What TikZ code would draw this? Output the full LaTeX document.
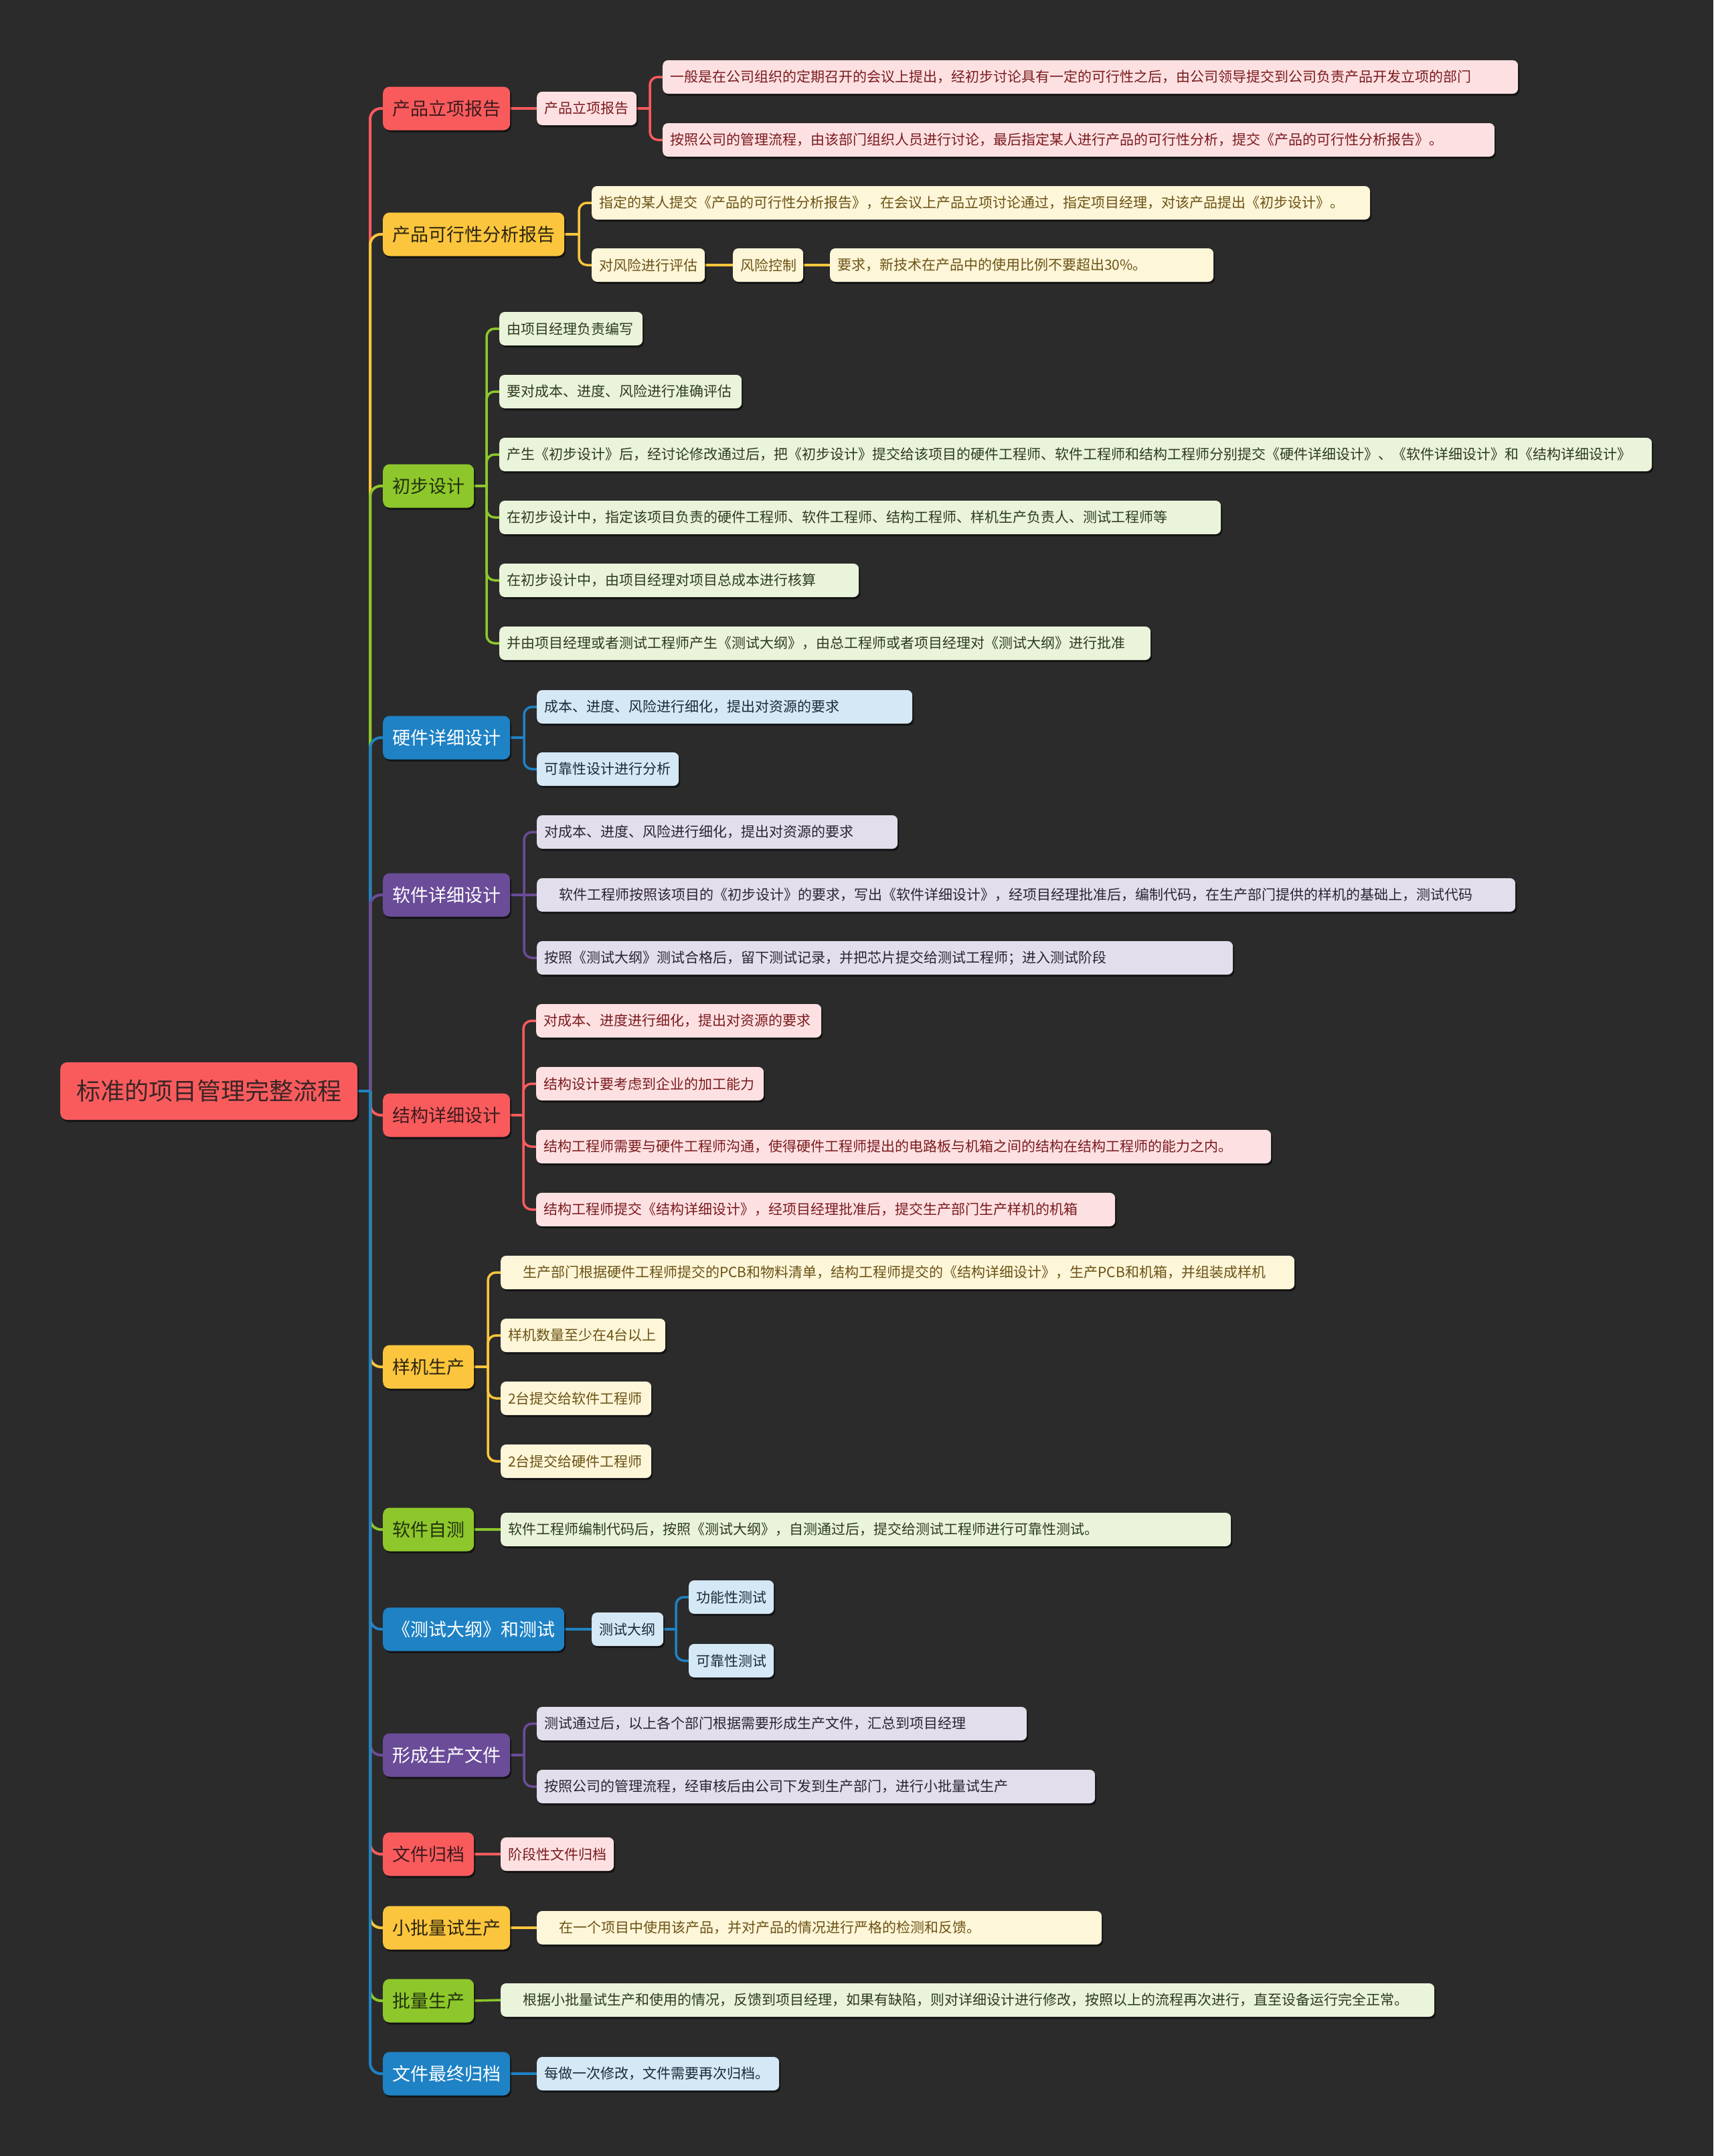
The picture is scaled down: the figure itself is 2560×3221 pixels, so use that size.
\documentclass[tikz,border=0pt]{standalone}
\usepackage{fontspec}
\setmainfont{Noto Sans CJK SC}
\usetikzlibrary{shadows,calc}
\pgfdeclarelayer{back}
\pgfdeclarelayer{lines}
\pgfsetlayers{back,lines,main}

\definecolor{bgc}{HTML}{2B2B2B}
\definecolor{cR}{HTML}{F95B5D}
\definecolor{cY}{HTML}{FBC63D}
\definecolor{cG}{HTML}{8DC72B}
\definecolor{cB}{HTML}{1E82C5}
\definecolor{cP}{HTML}{6A4C98}
\definecolor{fR}{HTML}{FDE1E2}
\definecolor{tR}{HTML}{7A1A1D}
\definecolor{fY}{HTML}{FEF6D9}
\definecolor{tY}{HTML}{6B5214}
\definecolor{fG}{HTML}{EAF4DA}
\definecolor{tG}{HTML}{2E3A1E}
\definecolor{fB}{HTML}{D4E8F5}
\definecolor{tB}{HTML}{1B2A36}
\definecolor{fP}{HTML}{E3DEEB}
\definecolor{tP}{HTML}{2B2335}
\definecolor{dR}{HTML}{3D1B1D}
\definecolor{dY}{HTML}{2D2410}
\definecolor{dG}{HTML}{23300F}
\definecolor{rootT}{HTML}{3A2526}

\tikzset{
  shad/.style={drop shadow={shadow xshift=2pt, shadow yshift=-3pt, opacity=0.55, fill=black}},
  lone/.style={shad, rounded corners=10pt, minimum height=65pt, inner xsep=14pt, inner ysep=0pt,
    font=\fontsize{27}{30}\selectfont, anchor=west},
  ltwo/.style={shad, rounded corners=8pt, minimum height=50pt, inner xsep=11pt, inner ysep=0pt,
    font=\fontsize{21}{24}\selectfont, anchor=west},
  Rone/.style={lone, fill=cR, text=dR},
  Yone/.style={lone, fill=cY, text=dY},
  Gone/.style={lone, fill=cG, text=dG},
  Bone/.style={lone, fill=cB, text=white},
  Pone/.style={lone, fill=cP, text=white},
  Rtwo/.style={ltwo, fill=fR, text=tR},
  Ytwo/.style={ltwo, fill=fY, text=tY},
  Gtwo/.style={ltwo, fill=fG, text=tG},
  Btwo/.style={ltwo, fill=fB, text=tB},
  Ptwo/.style={ltwo, fill=fP, text=tP},
  link/.style={line width=4pt},
  sublink/.style={line width=3.5pt},
}

\newcommand\leaf[6]{\node[#2] (#1) at (#3,#5) {\makebox[\dimexpr #4pt-#3pt-22pt\relax][l]{#6}};}
\newcommand\conn[3]{%
  \path ($(#2.west)+(-19,0)$) coordinate (s#2);
  \draw[sublink,#3] (#1.east) -- (s#2 |- #1.east);
  \draw[sublink,#3,rounded corners=12pt] (s#2 |- #1.east) |- (#2.west);}
\newcommand\straight[3]{\draw[sublink,#3] (#1.east) -- (#2.west);}
\newcommand\ind{\hspace*{22pt}}

\begin{document}
\begin{tikzpicture}[x=1pt,y=-1pt]
\begin{pgfonlayer}{back}
\fill[bgc] (0,0) rectangle (2560,3221);
\end{pgfonlayer}
\useasboundingbox (0,0) rectangle (2560,3221);

% root
\node[shad, fill=cR, text=rootT, rounded corners=10pt, minimum height=86pt, inner xsep=24pt,
  inner ysep=0pt, font=\fontsize{36}{40}\selectfont, anchor=west] (root) at (90,1630) {标准的项目管理完整流程};

% level 1
\node[Rone] (A1) at (572,162) {产品立项报告};
\node[Yone] (A2) at (572,350) {产品可行性分析报告};
\node[Gone] (A3) at (572,726) {初步设计};
\node[Bone] (A4) at (572,1102) {硬件详细设计};
\node[Pone] (A5) at (572,1337) {软件详细设计};
\node[Rone] (A6) at (572,1666) {结构详细设计};
\node[Yone] (A7) at (572,2042) {样机生产};
\node[Gone] (A8) at (572,2285) {软件自测};
\node[Bone] (A9) at (572,2434) {《测试大纲》和测试};
\node[Pone] (A10) at (572,2622) {形成生产文件};
\node[Rone] (A11) at (572,2770) {文件归档};
\node[Yone] (A12) at (572,2880) {小批量试生产};
\node[Gone] (A13) at (572,2989) {批量生产};
\node[Bone] (A14) at (572,3098) {文件最终归档};

% A1
\leaf{B1}{Rtwo}{802}{951}{162}{产品立项报告}
\leaf{C1}{Rtwo}{990}{2268}{115}{一般是在公司组织的定期召开的会议上提出，经初步讨论具有一定的可行性之后，由公司领导提交到公司负责产品开发立项的部门}
\leaf{C2}{Rtwo}{990}{2233}{209}{按照公司的管理流程，由该部门组织人员进行讨论，最后指定某人进行产品的可行性分析，提交《产品的可行性分析报告》。}
% A2
\leaf{B2}{Ytwo}{884}{2047}{303}{指定的某人提交《产品的可行性分析报告》，在会议上产品立项讨论通过，指定项目经理，对该产品提出《初步设计》。}
\leaf{B3}{Ytwo}{884}{1053}{396}{对风险进行评估}
\leaf{C3}{Ytwo}{1095}{1200}{396}{风险控制}
\leaf{D1}{Ytwo}{1240}{1813}{396}{要求，新技术在产品中的使用比例不要超出30\%。}
% A3
\leaf{G1}{Gtwo}{746}{960}{491}{由项目经理负责编写}
\leaf{G2}{Gtwo}{746}{1108}{585}{要对成本、进度、风险进行准确评估}
\leaf{G3}{Gtwo}{746}{2468}{679}{产生《初步设计》后，经讨论修改通过后，把《初步设计》提交给该项目的硬件工程师、软件工程师和结构工程师分别提交《硬件详细设计》、《软件详细设计》和《结构详细设计》}
\leaf{G4}{Gtwo}{746}{1824}{773}{在初步设计中，指定该项目负责的硬件工程师、软件工程师、结构工程师、样机生产负责人、测试工程师等}
\leaf{G5}{Gtwo}{746}{1283}{867}{在初步设计中，由项目经理对项目总成本进行核算}
\leaf{G6}{Gtwo}{746}{1719}{961}{并由项目经理或者测试工程师产生《测试大纲》，由总工程师或者项目经理对《测试大纲》进行批准}
% A4
\leaf{H1}{Btwo}{802}{1363}{1056}{成本、进度、风险进行细化，提出对资源的要求}
\leaf{H2}{Btwo}{802}{1014}{1149}{可靠性设计进行分析}
% A5
\leaf{S1}{Ptwo}{802}{1341}{1243}{对成本、进度、风险进行细化，提出对资源的要求}
\leaf{S2}{Ptwo}{802}{2264}{1337}{\ind 软件工程师按照该项目的《初步设计》的要求，写出《软件详细设计》，经项目经理批准后，编制代码，在生产部门提供的样机的基础上，测试代码}
\leaf{S3}{Ptwo}{802}{1842}{1431}{按照《测试大纲》测试合格后，留下测试记录，并把芯片提交给测试工程师；进入测试阶段}
% A6
\leaf{J1}{Rtwo}{801}{1227}{1525}{对成本、进度进行细化，提出对资源的要求}
\leaf{J2}{Rtwo}{801}{1141}{1619}{结构设计要考虑到企业的加工能力}
\leaf{J3}{Rtwo}{801}{1899}{1713}{结构工程师需要与硬件工程师沟通，使得硬件工程师提出的电路板与机箱之间的结构在结构工程师的能力之内。}
\leaf{J4}{Rtwo}{801}{1666}{1807}{结构工程师提交《结构详细设计》，经项目经理批准后，提交生产部门生产样机的机箱}
% A7
\leaf{K1}{Ytwo}{748}{1934}{1901}{\ind 生产部门根据硬件工程师提交的PCB和物料清单，结构工程师提交的《结构详细设计》，生产PCB和机箱，并组装成样机}
\leaf{K2}{Ytwo}{748}{994}{1995}{样机数量至少在4台以上}
\leaf{K3}{Ytwo}{748}{973}{2089}{2台提交给软件工程师}
\leaf{K4}{Ytwo}{748}{973}{2183}{2台提交给硬件工程师}
% A8
\leaf{L1}{Gtwo}{748}{1839}{2285}{软件工程师编制代码后，按照《测试大纲》，自测通过后，提交给测试工程师进行可靠性测试。}
% A9
\leaf{M1}{Btwo}{884}{991}{2434}{测试大纲}
\leaf{M2}{Btwo}{1029}{1156}{2386}{功能性测试}
\leaf{M3}{Btwo}{1029}{1156}{2481}{可靠性测试}
% A10
\leaf{N1}{Ptwo}{802}{1534}{2575}{测试通过后，以上各个部门根据需要形成生产文件，汇总到项目经理}
\leaf{N2}{Ptwo}{802}{1636}{2669}{按照公司的管理流程，经审核后由公司下发到生产部门，进行小批量试生产}
% A11
\leaf{O1}{Rtwo}{748}{917}{2770}{阶段性文件归档}
% A12
\leaf{Q1}{Ytwo}{802}{1646}{2880}{\ind 在一个项目中使用该产品，并对产品的情况进行严格的检测和反馈。}
% A13
\leaf{T1}{Gtwo}{748}{2143}{2988}{\ind 根据小批量试生产和使用的情况，反馈到项目经理，如果有缺陷，则对详细设计进行修改，按照以上的流程再次进行，直至设备运行完全正常。}
% A14
\leaf{U1}{Btwo}{802}{1164}{3098}{每做一次修改，文件需要再次归档。}

\begin{pgfonlayer}{lines}
% trunk branches, drawn in order
\foreach \n/\c in {A1/cR,A2/cY,A3/cG,A4/cB,A5/cP,A6/cR,A7/cY,A8/cG,A9/cB,A10/cP,A11/cR,A12/cY,A13/cG,A14/cB}
  {\draw[link,\c,rounded corners=16pt] (553,1630) |- (\n.west);}
\draw[link,cB] (root.east) -- (553,1630);

% sub connectors
\straight{A1}{B1}{cR}
\conn{B1}{C1}{cR}
\conn{B1}{C2}{cR}
\conn{A2}{B2}{cY}
\conn{A2}{B3}{cY}
\straight{B3}{C3}{cY}
\straight{C3}{D1}{cY}
\foreach \k in {G1,G2,G3,G4,G5,G6}{\conn{A3}{\k}{cG}}
\foreach \k in {H1,H2}{\conn{A4}{\k}{cB}}
\conn{A5}{S1}{cP}
\conn{A5}{S3}{cP}
\straight{A5}{S2}{cP}
\foreach \k in {J1,J2,J3,J4}{\conn{A6}{\k}{cR}}
\foreach \k in {K1,K2,K3,K4}{\conn{A7}{\k}{cY}}
\straight{A8}{L1}{cG}
\straight{A9}{M1}{cB}
\conn{M1}{M2}{cB}
\conn{M1}{M3}{cB}
\conn{A10}{N1}{cP}
\conn{A10}{N2}{cP}
\straight{A11}{O1}{cR}
\straight{A12}{Q1}{cY}
\straight{A13}{T1}{cG}
\straight{A14}{U1}{cB}
\end{pgfonlayer}
\end{tikzpicture}
\end{document}
